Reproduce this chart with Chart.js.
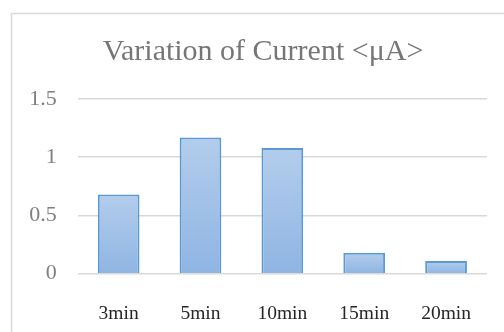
<!DOCTYPE html>
<html>
<head>
<meta charset="utf-8">
<script src="https://cdn.jsdelivr.net/npm/chart.js@4"></script>
<style>
  html, body { margin: 0; padding: 0; background: #ffffff; }
  #wrap { width: 504px; height: 332px; position: relative; }
</style>
</head>
<body>
<div id="wrap"><canvas id="c" width="504" height="332"></canvas></div>
<script>
const categories = ['3min', '5min', '10min', '15min', '20min'];
const currentValues = [0.68, 1.17, 1.08, 0.18, 0.11];
const yTickValues = [0, 0.5, 1, 1.5];
const chartTitle = 'Variation of Current <μA>';

const serif = "'Liberation Serif', 'Times New Roman', serif";

const framePlugin = {
  id: 'frame',
  beforeDraw(chart) {
    const c = chart.ctx;
    c.save();
    c.fillStyle = '#ffffff';
    c.fillRect(0, 0, chart.width, chart.height);
    c.strokeStyle = '#d9d9d9';
    c.lineWidth = 1.5;
    c.beginPath();
    c.moveTo(11.5, chart.height + 2);
    c.lineTo(11.5, 13.5);
    c.lineTo(chart.width + 2, 13.5);
    c.stroke();
    c.restore();
  },
  afterDraw(chart) {
    const c = chart.ctx;
    c.save();
    c.fillStyle = '#767676';
    c.font = '30px ' + serif;
    c.textAlign = 'center';
    c.textBaseline = 'alphabetic';
    c.fillText(chartTitle, 263, 60);
    c.restore();
  }
};

function barFill(ctx) {
  const chart = ctx.chart;
  if (!chart.chartArea || ctx.type !== 'data') return '#a3c1e8';
  const ys = chart.scales.y;
  const top = ys.getPixelForValue(ctx.parsed ? ctx.parsed.y : currentValues[ctx.dataIndex]);
  const bottom = ys.getPixelForValue(0);
  if (!isFinite(top) || !isFinite(bottom) || top === bottom) return '#a3c1e8';
  const g = chart.ctx.createLinearGradient(0, top, 0, bottom);
  g.addColorStop(0, '#b3cdec');
  g.addColorStop(1, '#8fb5e3');
  return g;
}

new Chart(document.getElementById('c'), {
  type: 'bar',
  data: {
    labels: categories,
    datasets: [{
      label: 'Current',
      data: currentValues,
      backgroundColor: barFill,
      borderColor: '#5b9bd5',
      borderWidth: 2,
      borderSkipped: 'bottom',
      categoryPercentage: 1,
      barPercentage: 0.51
    }]
  },
  options: {
    responsive: false,
    animation: false,
    devicePixelRatio: 1,
    layout: { padding: { left: 0, right: 17, top: 99, bottom: 0 } },
    plugins: {
      legend: { display: false },
      tooltip: { enabled: false },
      title: { display: false }
    },
    scales: {
      x: {
        grid: { display: false, drawTicks: false },
        border: { display: false },
        ticks: {
          color: '#262626',
          font: { family: serif, size: 19.5 },
          padding: 28,
          maxRotation: 0
        },
        afterFit(s) { s.height = 58.3; }
      },
      y: {
        min: yTickValues[0],
        max: yTickValues[yTickValues.length - 1],
        afterBuildTicks(s) { s.ticks = yTickValues.map(v => ({ value: v })); },
        grid: { color: '#d9d9d9', lineWidth: 1.5, drawTicks: false },
        border: { display: false },
        ticks: {
          color: '#7f7f7f',
          font: { family: serif, size: 22 },
          padding: 21,
          callback: v => String(v)
        },
        afterFit(s) { s.width = 77.7; }
      }
    }
  },
  plugins: [framePlugin]
});
</script>
</body>
</html>
